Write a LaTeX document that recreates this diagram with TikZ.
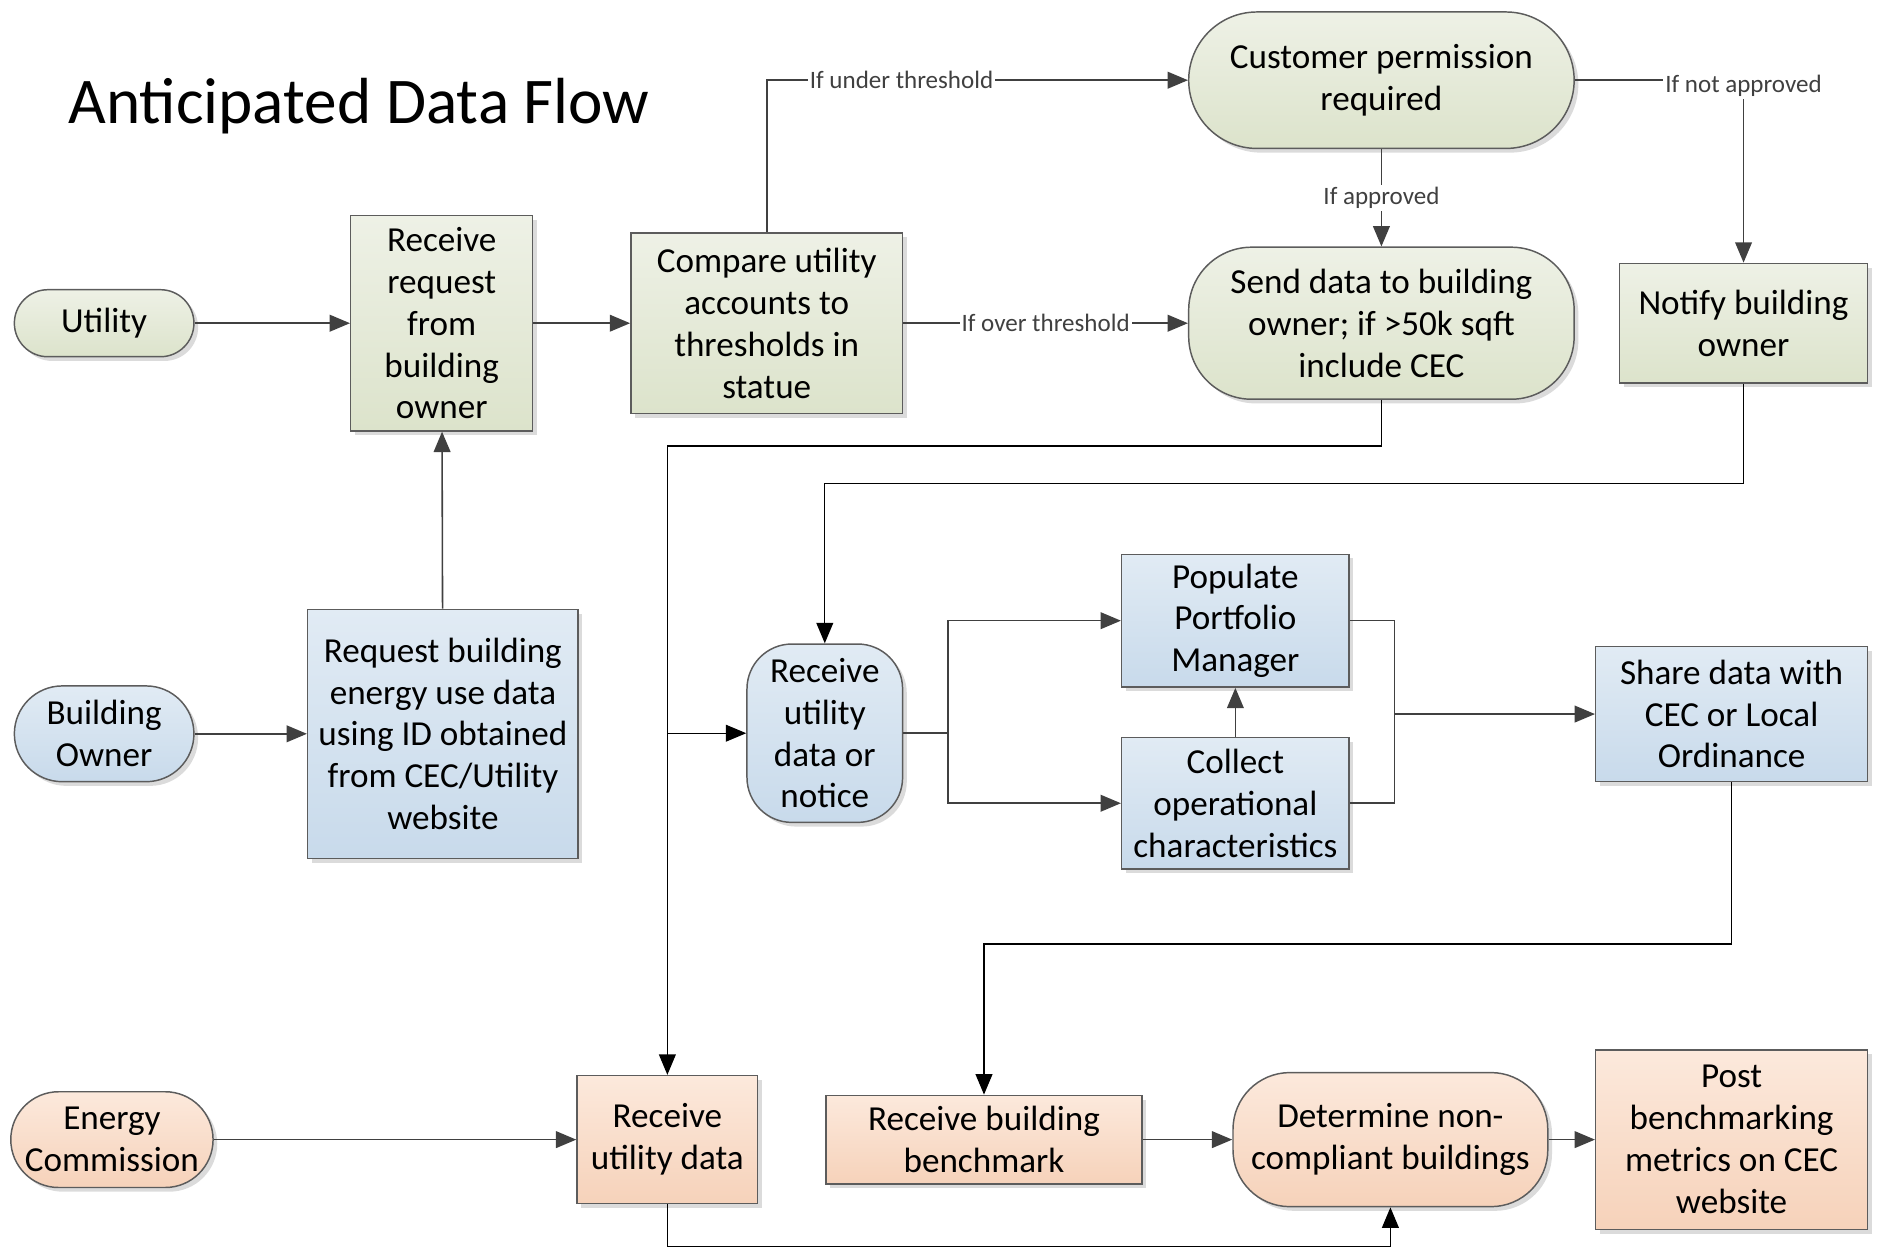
\documentclass[tikz,border=0pt]{standalone}
\usepackage{fontspec}
\setmainfont{Carlito}
\usetikzlibrary{arrows.meta,shadows}
\definecolor{gtop}{HTML}{EEF1E6}
\definecolor{gbot}{HTML}{DCE3CB}
\definecolor{btop}{HTML}{E1EBF4}
\definecolor{bbot}{HTML}{C8DAEB}
\definecolor{otop}{HTML}{FCE9DC}
\definecolor{obot}{HTML}{F6D2BA}
\definecolor{edge}{HTML}{5C5C5C}
\definecolor{wire}{HTML}{404040}

\begin{document}
\begin{tikzpicture}
\useasboundingbox (0,0) rectangle (31.36,-20.87);
\tikzstyle{box}=[rectangle, draw=edge, line width=0.7pt, align=center, inner sep=0pt,
    font=\fontsize{16.7}{19.9}\selectfont,
    drop shadow={shadow xshift=0.07cm, shadow yshift=-0.07cm, fill=black!35, opacity=0.4}]
\tikzstyle{grn}=[top color=gtop, bottom color=gbot]
\tikzstyle{blu}=[top color=btop, bottom color=bbot]
\tikzstyle{org}=[top color=otop, bottom color=obot]
\tikzstyle{arr}=[draw=wire, line width=0.75pt, -{Triangle[length=0.34cm, width=0.28cm]}]
\tikzstyle{arrthin}=[draw=black, line width=0.6pt, -{Triangle[length=0.34cm, width=0.28cm]}]
\tikzstyle{cond}=[fill=white, inner sep=1pt, text=wire, font=\fontsize{11.9}{14}\selectfont]

\node[anchor=base west, font=\fontsize{31}{37}\selectfont] (title) at (1.02,-2.06) {Anticipated Data Flow};

\node[box, grn, rounded corners=0.56cm, minimum width=3cm,
    minimum height=1.12cm] (util) at (1.74,-5.40) {Utility};
\node[box, grn, minimum width=3.04cm,
    minimum height=3.6cm] (rr) at (7.38,-5.40) {Receive\\request\\from\\building\\owner};
\node[box, grn, minimum width=4.54cm,
    minimum height=3.02cm] (cmp) at (12.81,-5.40) {Compare utility\\accounts to\\thresholds in\\statue};
\node[box, grn, rounded corners=1.14cm, minimum width=6.44cm,
    minimum height=2.28cm] (perm) at (23.08,-1.34) {Customer permission\\required};
\node[box, grn, rounded corners=1.05cm, minimum width=6.44cm,
    minimum height=2.54cm] (send) at (23.08,-5.40) {Send data to building\\owner; if >50k sqft\\include CEC};
\node[box, grn, minimum width=4.14cm,
    minimum height=2cm] (notify) at (29.13,-5.40) {Notify building\\owner};

\node[box, blu, rounded corners=0.8cm, minimum width=3cm,
    minimum height=1.6cm] (bown) at (1.74,-12.26) {Building\\Owner};
\node[box, blu, minimum width=4.52cm,
    minimum height=4.16cm] (req) at (7.40,-12.26) {Request building\\energy use data\\using ID obtained\\from CEC/Utility\\website};
\node[box, blu, rounded corners=0.75cm, minimum width=2.6cm,
    minimum height=2.98cm] (notice) at (13.78,-12.25) {Receive\\utility\\data or\\notice};
\node[box, blu, minimum width=3.8cm,
    minimum height=2.22cm] (pop) at (20.64,-10.37) {Populate\\Portfolio\\Manager};
\node[box, blu, minimum width=3.8cm,
    minimum height=2.2cm] (coll) at (20.64,-13.42) {Collect\\operational\\characteristics};
\node[box, blu, minimum width=4.54cm,
    minimum height=2.26cm] (share) at (28.93,-11.93) {Share data with\\CEC or Local\\Ordinance};

\node[box, org, rounded corners=0.8cm, minimum width=3.38cm,
    minimum height=1.6cm] (ec) at (1.87,-19.04) {Energy\\Commission};
\node[box, org, minimum width=3.02cm,
    minimum height=2.14cm] (rud) at (11.15,-19.04) {Receive\\utility data};
\node[box, org, minimum width=5.28cm,
    minimum height=1.48cm] (bench) at (16.44,-19.04) {Receive building\\benchmark};
\node[box, org, rounded corners=0.95cm, minimum width=5.26cm,
    minimum height=2.24cm] (det) at (23.23,-19.04) {Determine non-\\compliant buildings};
\node[box, org, minimum width=4.54cm,
    minimum height=3cm] (post) at (28.93,-19.04) {Post\\benchmarking\\metrics on CEC\\website};

\coordinate (split) at (15.84,-12.25);
\coordinate (merge) at (23.30,-11.93);

\draw[arr] (util) -- (rr);
\draw[arr] (rr) -- (cmp);
\draw[arr] (cmp.north) |- node[cond, pos=0.66] {If under threshold} (perm.west);
\draw[arr] (cmp) -- node[cond] {If over threshold} (send);
\draw[arr] (perm) -- node[cond] {If approved} (send);
\draw[arr] (perm.east) -| node[cond, pos=0.5, yshift=-0.1cm] {If not approved} (notify.north);
\draw[arrthin] (send.south) -- ++(0,-0.77) -| (rud.north);
\draw[arrthin] (rud.north |- notice.west) -- (notice.west);
\draw[arrthin] (notify.south) -- ++(0,-1.66) -| (notice.north);
\draw[draw=wire, line width=0.75pt] (notice.east) -- (split);
\draw[arr] (split) |- (pop.west);
\draw[arr] (split) |- (coll.west);
\draw[arr] (coll) -- (pop);
\draw[draw=wire, line width=0.75pt] (pop.east) -| (merge) |- (coll.east);
\draw[arr] (merge) -- (share.west);
\draw[arrthin] (share.south) -- ++(0,-2.70) -| (bench.north);
\draw[arr] (bown) -- (req);
\draw[arr] (req) -- (rr);
\draw[arr] (ec) -- (rud);
\draw[arr] (bench) -- (det);
\draw[arr] (det) -- (post);
\draw[arrthin] (rud.south) -- ++(0,-0.70) -| (det.south);
\end{tikzpicture}
\end{document}
